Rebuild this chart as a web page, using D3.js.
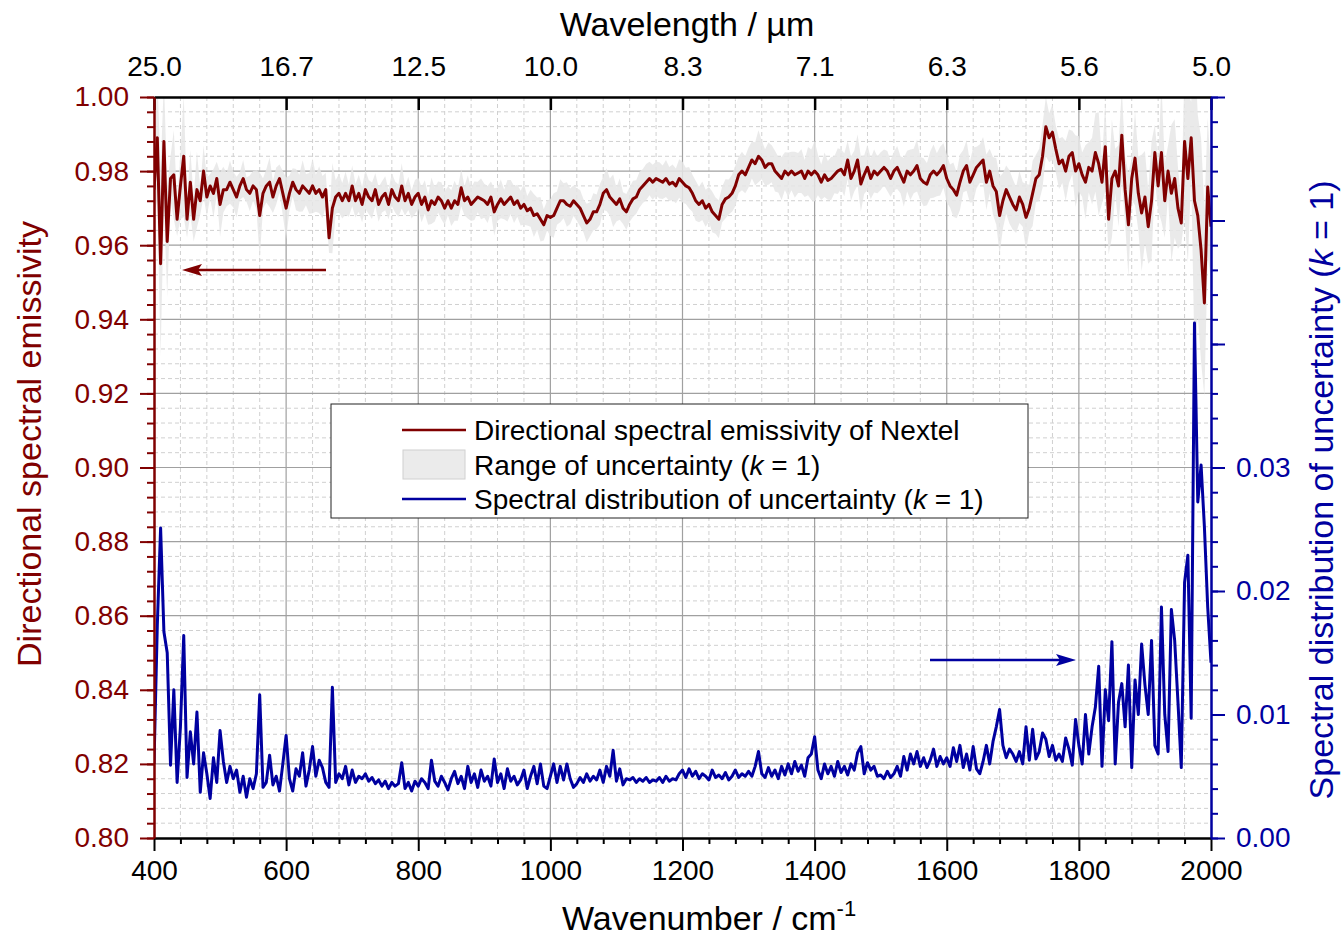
<!DOCTYPE html>
<html>
<head>
<meta charset="utf-8">
<script src="https://cdn.jsdelivr.net/npm/d3@7"></script>
<style>
  html, body { margin: 0; padding: 0; background: #fff; }
  svg { display: block; font-family: "Liberation Sans", Arial, sans-serif; }
</style>
</head>
<body>
<svg id="chart" width="1344" height="938"></svg>
<script>
// ---------------- DATA ----------------
const wavenumber = d3.range(400, 2001, 5); // cm^-1 grid, 5 cm^-1 spacing

const emissivity = [
  0.975,0.989,0.955,0.988,0.961,0.978,0.979,0.967,0.976,0.984,0.967,0.977,0.967,0.975,0.972,0.980,0.973,0.976,0.974,0.978,
  0.971,0.975,0.975,0.977,0.975,0.973,0.976,0.978,0.975,0.974,0.976,0.975,0.968,0.974,0.976,0.977,0.973,0.976,0.978,0.974,
  0.970,0.974,0.977,0.975,0.974,0.976,0.975,0.974,0.976,0.974,0.975,0.973,0.975,0.962,0.970,0.973,0.974,0.972,0.974,0.972,
  0.976,0.972,0.974,0.971,0.975,0.973,0.972,0.975,0.971,0.973,0.974,0.971,0.975,0.973,0.972,0.976,0.972,0.974,0.971,0.973,
  0.974,0.971,0.973,0.9695,0.972,0.971,0.973,0.972,0.970,0.972,0.970,0.972,0.971,0.9755,0.972,0.973,0.971,0.972,0.973,0.9725,
  0.972,0.971,0.973,0.969,0.971,0.9725,0.971,0.972,0.973,0.971,0.972,0.970,0.971,0.9693,0.970,0.968,0.9685,0.967,0.9655,0.968,
  0.9675,0.968,0.970,0.972,0.972,0.971,0.9705,0.972,0.971,0.970,0.968,0.966,0.967,0.969,0.969,0.971,0.974,0.975,0.973,0.972,
  0.971,0.9725,0.970,0.969,0.971,0.9725,0.973,0.975,0.976,0.977,0.978,0.977,0.978,0.9775,0.977,0.978,0.9765,0.977,0.976,0.978,
  0.977,0.976,0.9755,0.974,0.972,0.971,0.972,0.970,0.971,0.969,0.968,0.967,0.971,0.9725,0.973,0.974,0.976,0.979,0.980,0.979,
  0.981,0.983,0.982,0.984,0.983,0.981,0.982,0.982,0.980,0.979,0.978,0.980,0.979,0.980,0.979,0.9795,0.980,0.978,0.980,0.979,
  0.980,0.979,0.977,0.979,0.9775,0.978,0.979,0.980,0.9805,0.979,0.983,0.978,0.980,0.983,0.9765,0.979,0.981,0.978,0.980,0.979,
  0.980,0.981,0.980,0.978,0.980,0.981,0.979,0.977,0.980,0.979,0.980,0.9815,0.978,0.977,0.9765,0.979,0.980,0.979,0.980,0.9815,
  0.978,0.976,0.975,0.9735,0.977,0.980,0.9815,0.977,0.979,0.981,0.982,0.983,0.977,0.980,0.976,0.9745,0.968,0.972,0.975,0.973,
  0.971,0.9695,0.973,0.971,0.9675,0.970,0.974,0.978,0.979,0.984,0.992,0.989,0.9905,0.986,0.982,0.983,0.980,0.984,0.985,0.980,
  0.982,0.979,0.977,0.981,0.980,0.985,0.982,0.977,0.9866,0.967,0.978,0.980,0.976,0.9897,0.975,0.9655,0.978,0.9835,0.974,0.9687,
  0.973,0.965,0.972,0.985,0.976,0.985,0.972,0.980,0.974,0.978,0.970,0.966,0.988,0.978,0.989,0.972,0.968,0.9587,0.9444,0.9757,0.965
];

const uncertainty = [
  0.0060,0.0172,0.0251,0.0167,0.0150,0.0059,0.0120,0.0045,0.0090,0.0164,0.0049,0.0086,0.0060,0.0102,0.0037,0.0069,0.0052,0.0032,0.0065,0.0045,
  0.0087,0.0062,0.0045,0.0058,0.0048,0.0055,0.0037,0.0050,0.0033,0.0048,0.0040,0.0052,0.0116,0.0041,0.0045,0.0067,0.0043,0.0050,0.0038,0.0060,
  0.0083,0.0048,0.0038,0.0056,0.0050,0.0069,0.0042,0.0055,0.0074,0.0050,0.0063,0.0057,0.0045,0.0041,0.0122,0.0045,0.0052,0.0048,0.0058,0.0043,
  0.0055,0.0045,0.0050,0.0048,0.0052,0.0046,0.0049,0.0044,0.0047,0.0042,0.0046,0.0040,0.0045,0.0042,0.0044,0.0061,0.0040,0.0045,0.0038,0.0046,
  0.0042,0.0048,0.0045,0.0040,0.0063,0.0046,0.0042,0.0050,0.0045,0.0039,0.0048,0.0054,0.0044,0.0050,0.0040,0.0058,0.0045,0.0052,0.0041,0.0055,
  0.0046,0.0050,0.0042,0.0064,0.0045,0.0052,0.0040,0.0056,0.0046,0.0050,0.0043,0.0047,0.0055,0.0040,0.0050,0.0058,0.0044,0.0060,0.0042,0.0040,
  0.0050,0.0060,0.0045,0.0058,0.0047,0.0060,0.0048,0.0041,0.0044,0.0049,0.0045,0.0052,0.0046,0.0050,0.0047,0.0055,0.0045,0.0058,0.0050,0.0071,
  0.0046,0.0056,0.0043,0.0048,0.0047,0.0049,0.0045,0.0048,0.0046,0.0049,0.0045,0.0047,0.0046,0.0049,0.0045,0.0050,0.0046,0.0048,0.0047,0.0052,
  0.0055,0.0049,0.0056,0.0050,0.0054,0.0048,0.0052,0.0050,0.0047,0.0055,0.0049,0.0051,0.0048,0.0053,0.0047,0.0050,0.0055,0.0049,0.0052,0.0050,
  0.0054,0.0050,0.0058,0.0070,0.0052,0.0049,0.0057,0.0050,0.0055,0.0048,0.0058,0.0051,0.0060,0.0052,0.0062,0.0054,0.0059,0.0050,0.0065,0.0068,
  0.0082,0.0055,0.0048,0.0060,0.0052,0.0058,0.0050,0.0062,0.0053,0.0058,0.0051,0.0060,0.0055,0.0069,0.0074,0.0052,0.0061,0.0055,0.0058,0.0050,
  0.0051,0.0048,0.0054,0.0049,0.0052,0.0058,0.0050,0.0066,0.0055,0.0068,0.0060,0.0070,0.0058,0.0065,0.0057,0.0063,0.0072,0.0058,0.0066,0.0060,
  0.0065,0.0058,0.0073,0.0062,0.0075,0.0057,0.0068,0.0055,0.0074,0.0056,0.0052,0.0062,0.0075,0.0060,0.0078,0.0090,0.0104,0.0075,0.0065,0.0072,
  0.0068,0.0062,0.0070,0.0060,0.0090,0.0063,0.0088,0.0064,0.0070,0.0085,0.0080,0.0066,0.0075,0.0063,0.0068,0.0062,0.0081,0.0072,0.0059,0.0096,
  0.0075,0.0060,0.0100,0.0068,0.0090,0.0106,0.0139,0.0058,0.0120,0.0095,0.0159,0.0060,0.0110,0.0125,0.0090,0.0140,0.0057,0.0128,0.0100,0.0157,
  0.0124,0.0100,0.0160,0.0075,0.0068,0.0187,0.0100,0.0070,0.0185,0.0160,0.0110,0.0057,0.0207,0.0229,0.0097,0.0417,0.0272,0.0302,0.0252,0.0187,0.0142
];

const wavenumberTicks = [400, 600, 800, 1000, 1200, 1400, 1600, 1800, 2000];
const wavelengthLabels = ["25.0", "16.7", "12.5", "10.0", "8.3", "7.1", "6.3", "5.6", "5.0"];
const emissivityTicks = [0.80, 0.82, 0.84, 0.86, 0.88, 0.90, 0.92, 0.94, 0.96, 0.98, 1.00];
const uncertaintyTicks = [0.00, 0.01, 0.02, 0.03, 0.04, 0.05, 0.06];
const uncertaintyLabelMax = 0.03;

const legendLabels = [
  "Directional spectral emissivity of Nextel",
  "Range of uncertainty (",
  "Spectral distribution of uncertainty ("
];

// ---------------- STYLE ----------------
const RED = "#800000";
const BLUE = "#0000a0";
const BAND = "#e6e6e6";

const svg = d3.select("#chart");
const L = 154, R = 1211, T = 97, B = 838;

const x = d3.scaleLinear().domain([400, 2000]).range([L, R]);
const yL = d3.scaleLinear().domain([0.80, 1.00]).range([B, T]);
const yR = d3.scaleLinear().domain([0, 0.06]).range([B, T]);

const data = wavenumber.map((w, i) => ({ w, e: emissivity[i], u: uncertainty[i] }));

svg.append("defs").append("clipPath").attr("id", "clip")
  .append("rect").attr("x", L).attr("y", T).attr("width", R - L).attr("height", B - T);

// ---------------- GRID ----------------
const grid = svg.append("g");
const xMinor = d3.range(440, 2000, 40).filter(v => v % 200 !== 0);
const yMinor = d3.range(0, 50).map(i => 0.80 + i * 0.004).filter(v => v > 0.801 && v < 0.999 && Math.abs((v - 0.80) / 0.02 - Math.round((v - 0.80) / 0.02)) > 0.01);
grid.selectAll(".vmin").data(xMinor).join("line")
  .attr("x1", d => x(d)).attr("x2", d => x(d)).attr("y1", T).attr("y2", B)
  .attr("stroke", "#d0d0d0").attr("stroke-width", 1).attr("stroke-dasharray", "4,3");
grid.selectAll(".hmin").data(yMinor).join("line")
  .attr("x1", L).attr("x2", R).attr("y1", d => yL(d)).attr("y2", d => yL(d))
  .attr("stroke", "#d0d0d0").attr("stroke-width", 1).attr("stroke-dasharray", "4,3");
grid.selectAll(".vmaj").data(wavenumberTicks.slice(1, -1)).join("line")
  .attr("x1", d => x(d)).attr("x2", d => x(d)).attr("y1", T).attr("y2", B)
  .attr("stroke", "#a0a0a0").attr("stroke-width", 1.2);
grid.selectAll(".hmaj").data(emissivityTicks.slice(1, -1)).join("line")
  .attr("x1", L).attr("x2", R).attr("y1", d => yL(d)).attr("y2", d => yL(d))
  .attr("stroke", "#a0a0a0").attr("stroke-width", 1.2);

// ---------------- DATA MARKS ----------------
const plot = svg.append("g").attr("clip-path", "url(#clip)");

plot.append("path").datum(data)
  .attr("fill", BAND).attr("opacity", 0.85)
  .attr("d", d3.area().x(d => x(d.w)).y0(d => yL(d.e - d.u)).y1(d => yL(d.e + d.u)));

plot.append("path").datum(data)
  .attr("fill", "none").attr("stroke", BLUE).attr("stroke-width", 3).attr("stroke-linejoin", "round")
  .attr("d", d3.line().x(d => x(d.w)).y(d => yR(d.u)));

plot.append("path").datum(data)
  .attr("fill", "none").attr("stroke", RED).attr("stroke-width", 3).attr("stroke-linejoin", "round")
  .attr("d", d3.line().x(d => x(d.w)).y(d => yL(d.e)));

// ---------------- AXES ----------------
function styleAxis(g, color, width) {
  g.select(".domain").attr("stroke", color).attr("stroke-width", width);
  g.selectAll(".tick line").attr("stroke", color).attr("stroke-width", width);
  g.selectAll(".tick text").attr("fill", color).attr("font-size", 28)
    .attr("font-family", "'Liberation Sans', Arial, sans-serif");
}

// bottom
const xMinorTicks = d3.range(400, 2001, 40).filter(v => v % 200 !== 0);
svg.append("g").attr("transform", `translate(0,${B})`)
  .call(d3.axisBottom(x).tickValues(xMinorTicks).tickSize(6).tickSizeOuter(0).tickFormat(""))
  .call(g => styleAxis(g, "#000", 2));
svg.append("g").attr("transform", `translate(0,${B})`)
  .call(d3.axisBottom(x).tickValues(wavenumberTicks).tickSize(13).tickSizeOuter(0).tickPadding(9).tickFormat(d3.format("d")))
  .call(g => styleAxis(g, "#000", 2));

// top
svg.append("g").attr("transform", `translate(0,${T})`)
  .call(d3.axisTop(x).tickValues(wavenumberTicks).tickSizeInner(-13).tickSizeOuter(0).tickPadding(21)
    .tickFormat((d, i) => wavelengthLabels[i]))
  .call(g => styleAxis(g, "#000", 2.5));

// left
const yLMinor = d3.range(0, 51).map(i => 0.80 + i * 0.004);
svg.append("g").attr("transform", `translate(${L},0)`)
  .call(d3.axisLeft(yL).tickValues(yLMinor).tickSize(7).tickSizeOuter(0).tickFormat(""))
  .call(g => styleAxis(g, RED, 2));
svg.append("g").attr("transform", `translate(${L},0)`)
  .call(d3.axisLeft(yL).tickValues(emissivityTicks).tickSize(14).tickSizeOuter(0).tickPadding(11).tickFormat(d3.format(".2f")))
  .call(g => styleAxis(g, RED, 2));

// right
const yRMinor = d3.range(0, 31).map(i => i * 0.002);
svg.append("g").attr("transform", `translate(${R},0)`)
  .call(d3.axisRight(yR).tickValues(yRMinor).tickSize(7).tickSizeOuter(0).tickFormat(""))
  .call(g => styleAxis(g, BLUE, 2));
svg.append("g").attr("transform", `translate(${R},0)`)
  .call(d3.axisRight(yR).tickValues(uncertaintyTicks).tickSize(14).tickSizeOuter(0).tickPadding(11)
    .tickFormat(d => d <= uncertaintyLabelMax + 1e-9 ? d3.format(".2f")(d) : ""))
  .call(g => styleAxis(g, BLUE, 2));

// ---------------- TITLES ----------------
svg.append("text").attr("x", 687).attr("y", 36).attr("text-anchor", "middle")
  .attr("font-size", 34).attr("fill", "#000").text("Wavelength / µm");

const xt = svg.append("text").attr("x", 562).attr("y", 930)
  .attr("font-size", 34).attr("fill", "#000");
xt.append("tspan").text("Wavenumber / cm");
xt.append("tspan").attr("font-size", 22).attr("dy", -14).text("-1");

svg.append("text").attr("transform", "translate(41,444) rotate(-90)").attr("text-anchor", "middle")
  .attr("font-size", 34).attr("fill", RED).text("Directional spectral emissivity");

const rt = svg.append("text").attr("transform", "translate(1333,490) rotate(-90)").attr("text-anchor", "middle")
  .attr("font-size", 34).attr("fill", BLUE);
rt.append("tspan").text("Spectral distribution of uncertainty (");
rt.append("tspan").attr("font-style", "italic").text("k");
rt.append("tspan").text(" = 1)");

// ---------------- ARROWS ----------------
function arrow(x1, x2, y, color) {
  const dir = Math.sign(x2 - x1);
  svg.append("line").attr("x1", x1).attr("x2", x2 - dir * 14).attr("y1", y).attr("y2", y)
    .attr("stroke", color).attr("stroke-width", 2.5);
  svg.append("path")
    .attr("d", `M${x2},${y} L${x2 - dir * 20},${y - 6} L${x2 - dir * 16},${y} L${x2 - dir * 20},${y + 6} Z`)
    .attr("fill", color);
}
arrow(326, 182, 270, RED);
arrow(930, 1076, 660, BLUE);

// ---------------- LEGEND ----------------
const lg = svg.append("g");
lg.append("rect").attr("x", 331).attr("y", 404).attr("width", 697).attr("height", 114)
  .attr("fill", "#fff").attr("stroke", "#222").attr("stroke-width", 1);
lg.append("line").attr("x1", 402).attr("x2", 466).attr("y1", 430).attr("y2", 430)
  .attr("stroke", RED).attr("stroke-width", 2.6);
lg.append("rect").attr("x", 403).attr("y", 450).attr("width", 62).attr("height", 29)
  .attr("fill", "#ebebeb").attr("stroke", "#d0d0d0").attr("stroke-width", 1);
lg.append("line").attr("x1", 402).attr("x2", 466).attr("y1", 499).attr("y2", 499)
  .attr("stroke", BLUE).attr("stroke-width", 2.6);
lg.append("text").attr("x", 474).attr("y", 440).attr("font-size", 28).attr("fill", "#000").text(legendLabels[0]);
[[475, legendLabels[1]], [509, legendLabels[2]]].forEach(([yy, lab]) => {
  const t = lg.append("text").attr("x", 474).attr("y", yy).attr("font-size", 28).attr("fill", "#000");
  t.append("tspan").text(lab);
  t.append("tspan").attr("font-style", "italic").text("k");
  t.append("tspan").text(" = 1)");
});
</script>
</body>
</html>
